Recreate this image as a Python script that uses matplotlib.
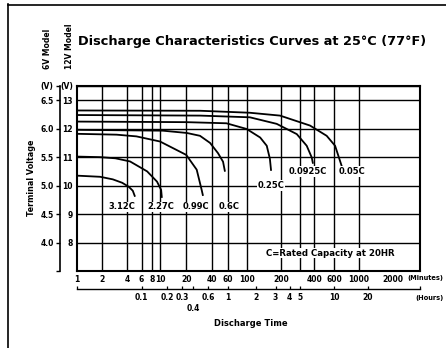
import numpy as np
import matplotlib
matplotlib.use("Agg")
import matplotlib.pyplot as plt
from matplotlib.lines import Line2D

plt.rcParams['font.family'] = ['DejaVu Sans']
plt.rcParams['font.weight'] = 'bold'

# discharge curves, time in minutes, voltage for the 12V model
rates = ['3.12C', '2.27C', '0.99C', '0.6C', '0.25C', '0.0925C', '0.05C']

t_312 = [1, 1.9, 2.7, 3.5, 4.2, 4.7, 5.0]
v_312 = [10.35, 10.31, 10.22, 10.10, 9.96, 9.82, 9.61]

t_227 = [1, 1.9, 2.9, 4.35, 7.0, 9.2, 10.3, 10.5]
v_227 = [11.02, 11.0, 10.96, 10.85, 10.5, 10.14, 9.85, 9.57]

t_099 = [1, 3, 5.2, 10, 20, 26.4, 30.1, 31.2]
v_099 = [11.82, 11.79, 11.73, 11.55, 11.08, 10.56, 9.85, 9.64]

t_06 = [1, 10.8, 20.3, 28.8, 37.6, 46.4, 53, 55.8]
v_06 = [11.96, 11.93, 11.85, 11.75, 11.5, 11.14, 10.84, 10.49]

t_025 = [1, 20, 58, 99, 131, 150, 160, 164]
v_025 = [12.25, 12.23, 12.19, 11.99, 11.69, 11.40, 10.94, 10.52]

t_0925 = [1, 29, 106, 184, 278, 341, 378, 388]
v_0925 = [12.48, 12.46, 12.40, 12.17, 11.81, 11.40, 10.99, 10.77]

t_005 = [1, 29, 106, 197, 365, 514, 611, 676, 705]
v_005 = [12.64, 12.63, 12.56, 12.46, 12.11, 11.75, 11.40, 10.87, 10.65]

curves = [(t_312, v_312), (t_227, v_227), (t_099, v_099), (t_06, v_06),
          (t_025, v_025), (t_0925, v_0925), (t_005, v_005)]

# axis ticks
min_labels = [1, 2, 4, 6, 8, 10, 20, 40, 60, 100, 200, 400, 600, 1000, 2000]
min_grid = [2, 4, 6, 8, 10, 20, 40, 60, 100, 200, 300, 400, 600, 1000]
hour_ticks = [0.1, 0.2, 0.3, 0.6, 1, 2, 3, 4, 5, 10, 20]
hour_low = [0.4]
v12_ticks = [8, 9, 10, 11, 12, 13]
v6_ticks = [4.0, 4.5, 5.0, 5.5, 6.0, 6.5]

# the printed log grid has uneven decades
decade_w = [83, 87, 112]
knot_log = np.arange(len(decade_w) + 1, dtype=float)
knot_pos = np.concatenate([[0.0], np.cumsum(decade_w)]).astype(float)


def interp_ext(x, xp, fp):
    x = np.asarray(x, dtype=float)
    y = np.interp(x, xp, fp)
    lo_slope = (fp[1] - fp[0]) / (xp[1] - xp[0])
    hi_slope = (fp[-1] - fp[-2]) / (xp[-1] - xp[-2])
    y = np.where(x < xp[0], fp[0] + (x - xp[0]) * lo_slope, y)
    y = np.where(x > xp[-1], fp[-1] + (x - xp[-1]) * hi_slope, y)
    return y


def fwd(m):
    return interp_ext(np.log10(np.clip(m, 1e-6, None)), knot_log, knot_pos)


def inv(p):
    return 10 ** interp_ext(p, knot_pos, knot_log)


XLIM = (1, 3500)
YLIM = (7, 13.5)

fig = plt.figure(figsize=(4.46, 3.48), dpi=100)
rect = [77 / 446, 77 / 348, 343 / 446, 185 / 348]
ax = fig.add_axes(rect)
ax.set_xscale('function', functions=(fwd, inv))
ax.set_xlim(*XLIM)
ax.set_ylim(*YLIM)

for t, v in curves:
    ax.plot(t, v, color='black', lw=1.3, solid_capstyle='butt')

# grid: labels on the major ticks, lines on the minor ones
ax.xaxis.remove_overlapping_locs = False
ax.set_xticks(min_labels, labels=[str(m) for m in min_labels])
ax.set_xticks(min_grid, minor=True)
ax.set_yticks(v12_ticks + [13.5], labels=[str(v) for v in v12_ticks] + ['(V)'])
ax.grid(which='minor', axis='x', color='black', lw=1.0)
ax.grid(which='major', axis='y', color='black', lw=1.0)
ax.tick_params(axis='x', which='both', length=0, pad=3, labelsize=5.5)
ax.tick_params(axis='y', length=0, pad=3, labelsize=5.5)
for s in ax.spines.values():
    s.set_linewidth(1.5)

# 6V scale on the bracket left of the 12V labels
ax6 = ax.secondary_yaxis(-0.05, functions=(lambda v: v / 2, lambda v: v * 2))
ax6.set_yticks([3.5] + v6_ticks + [6.75],
               labels=[''] + ['%.1f' % v for v in v6_ticks] + ['(V)'])
ax6.tick_params(length=3, width=1.0, pad=1.5, labelsize=5.5)
ax6.spines['left'].set_linewidth(1.2)

# hours scale under the minutes
axh = fig.add_axes(rect)
axh.patch.set_visible(False)
axh.set_xscale('function', functions=(fwd, inv))
axh.set_xlim(*XLIM)
axh.set_ylim(0, 1)
axh.yaxis.set_visible(False)
for k in ['top', 'left', 'right']:
    axh.spines[k].set_visible(False)
axh.spines['bottom'].set_position(('outward', 13))
axh.spines['bottom'].set_linewidth(1.0)
axh.xaxis.remove_overlapping_locs = False
axh.set_xticks(np.array(hour_ticks) * 60, labels=[('%g' % h) for h in hour_ticks])
axh.set_xticks([XLIM[0]] + list(np.array(hour_low) * 60) + [XLIM[1]],
               labels=[''] + [('%g' % h) for h in hour_low] + [''], minor=True)
axh.tick_params(axis='x', which='both', direction='in', length=2.5, width=0.9,
                pad=3, labelsize=5.5)
axh.tick_params(axis='x', which='minor', pad=11)

# rate labels
rate_pos = [(3.48, 9.25), (10.3, 9.25), (25.9, 9.25), (62.1, 9.25),
            (164, 10.0), (351, 10.49), (866, 10.49)]
for name, (x, y) in zip(rates, rate_pos):
    ax.text(x, y, name, ha='center', va='center', fontsize=6,
            bbox=dict(fc='white', ec='none', pad=0.6))

ax.text(551, 7.63, 'C=Rated Capacity at 20HR', ha='center', va='center',
        fontsize=6.2, bbox=dict(fc='white', ec='none', pad=0.6))

ax.text(1.068, -0.038, '(Minutes)', transform=ax.transAxes, ha='right',
        va='center', fontsize=4.8)
ax.text(1.068, -0.146, '(Hours)', transform=ax.transAxes, ha='right',
        va='center', fontsize=4.8)

fig.text(78 / 446, 1 - 42 / 348, 'Discharge Characteristics Curves at 25°C (77°F)',
         ha='left', va='center', fontsize=9.3, fontweight='bold')
fig.text(251 / 446, 1 - 323 / 348, 'Discharge Time', ha='center', va='center',
         fontsize=6)
fig.text(32 / 446, 1 - 178 / 348, 'Terminal Voltage', rotation=90, ha='center',
         va='center', fontsize=5.8)
fig.text(47 / 446, 1 - 49 / 348, '6V Model', rotation=90, ha='center',
         va='center', fontsize=5.5)
fig.text(69 / 446, 1 - 46 / 348, '12V Model', rotation=90, ha='center',
         va='center', fontsize=5.5)

# page frame
fig.add_artist(Line2D([8 / 446, 8 / 446], [0, 1 - 4 / 348], color='black', lw=1.2))
fig.add_artist(Line2D([8 / 446, 1], [1 - 5 / 348, 1 - 5 / 348], color='black', lw=1.2))

fig.savefig('out.png', dpi=100)
